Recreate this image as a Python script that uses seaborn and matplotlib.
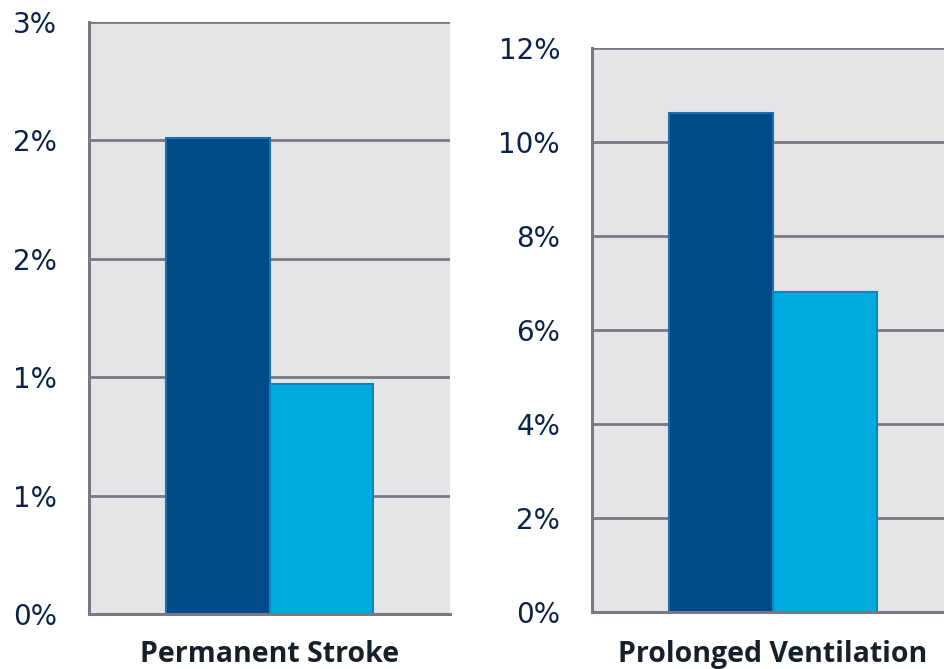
import matplotlib
matplotlib.use("Agg")
import matplotlib.pyplot as plt
import seaborn as sns
import pandas as pd

# Outcome rates (%) for the two comparison groups
groups = ["Group A", "Group B"]
stroke_values = [2.01, 0.97]
ventilation_values = [10.62, 6.81]

stroke_label = "Permanent Stroke"
ventilation_label = "Prolonged Ventilation"

stroke_ticks = [0, 0.5, 1.0, 1.5, 2.0, 2.5]
stroke_ticklabels = ["0%", "1%", "1%", "2%", "2%", "3%"]
ventilation_ticks = [0, 2, 4, 6, 8, 10, 12]
ventilation_ticklabels = ["0%", "2%", "4%", "6%", "8%", "10%", "12%"]

colors = ["#004B87", "#00AADF"]
edge_colors = ["#1F6FAE", "#0A86C2"]
panel_bg = "#E5E5E8"
line_color = "#797983"
tick_color = "#0B2347"
title_color = "#16202A"

sns.set_theme(style="white")
plt.rcParams["font.family"] = ["DejaVu Sans"]

fig = plt.figure(figsize=(9.45, 6.69), dpi=100)
ax1 = fig.add_axes([89 / 945, 55 / 669, 361 / 945, 592 / 669])
ax2 = fig.add_axes([592 / 945, 57 / 669, 362 / 945, 564 / 669])


def draw_panel(ax, label, values, ticks, ticklabels, label_pad):
    df = pd.DataFrame({"metric": [label] * len(values), "group": groups, "value": values})
    sns.barplot(data=df, x="metric", y="value", hue="group", palette=colors,
                width=0.576, gap=0, legend=False, ax=ax, zorder=3,
                linewidth=1.5, saturation=1)
    for patch, ec in zip(ax.patches, edge_colors):
        patch.set_edgecolor(ec)
    ax.set_facecolor(panel_bg)
    ax.set_xlim(-0.5, 0.5)
    ax.set_ylim(ticks[0], ticks[-1])
    ax.set_yticks(ticks)
    ax.set_yticklabels(ticklabels)
    ax.yaxis.grid(True, color=line_color, linewidth=2, zorder=0)
    ax.set_axisbelow(True)
    for side in ["top", "right"]:
        ax.spines[side].set_visible(False)
    for side in ["left", "bottom"]:
        ax.spines[side].set_color(line_color)
        ax.spines[side].set_linewidth(2.2)
        ax.spines[side].set_zorder(4)
    ax.tick_params(axis="y", length=0, pad=23, labelsize=20, labelcolor=tick_color)
    ax.tick_params(axis="x", length=0, pad=label_pad, labelsize=20.5, labelcolor=title_color)
    for t in ax.get_xticklabels():
        t.set_fontweight("bold")
        t.set_family(["Open Sans", "DejaVu Sans"])
    ax.set_xlabel("")
    ax.set_ylabel("")


draw_panel(ax1, stroke_label, stroke_values, stroke_ticks, stroke_ticklabels, 18.5)
draw_panel(ax2, ventilation_label, ventilation_values, ventilation_ticks, ventilation_ticklabels, 20)

fig.savefig("out.png", dpi=100, facecolor="white")
